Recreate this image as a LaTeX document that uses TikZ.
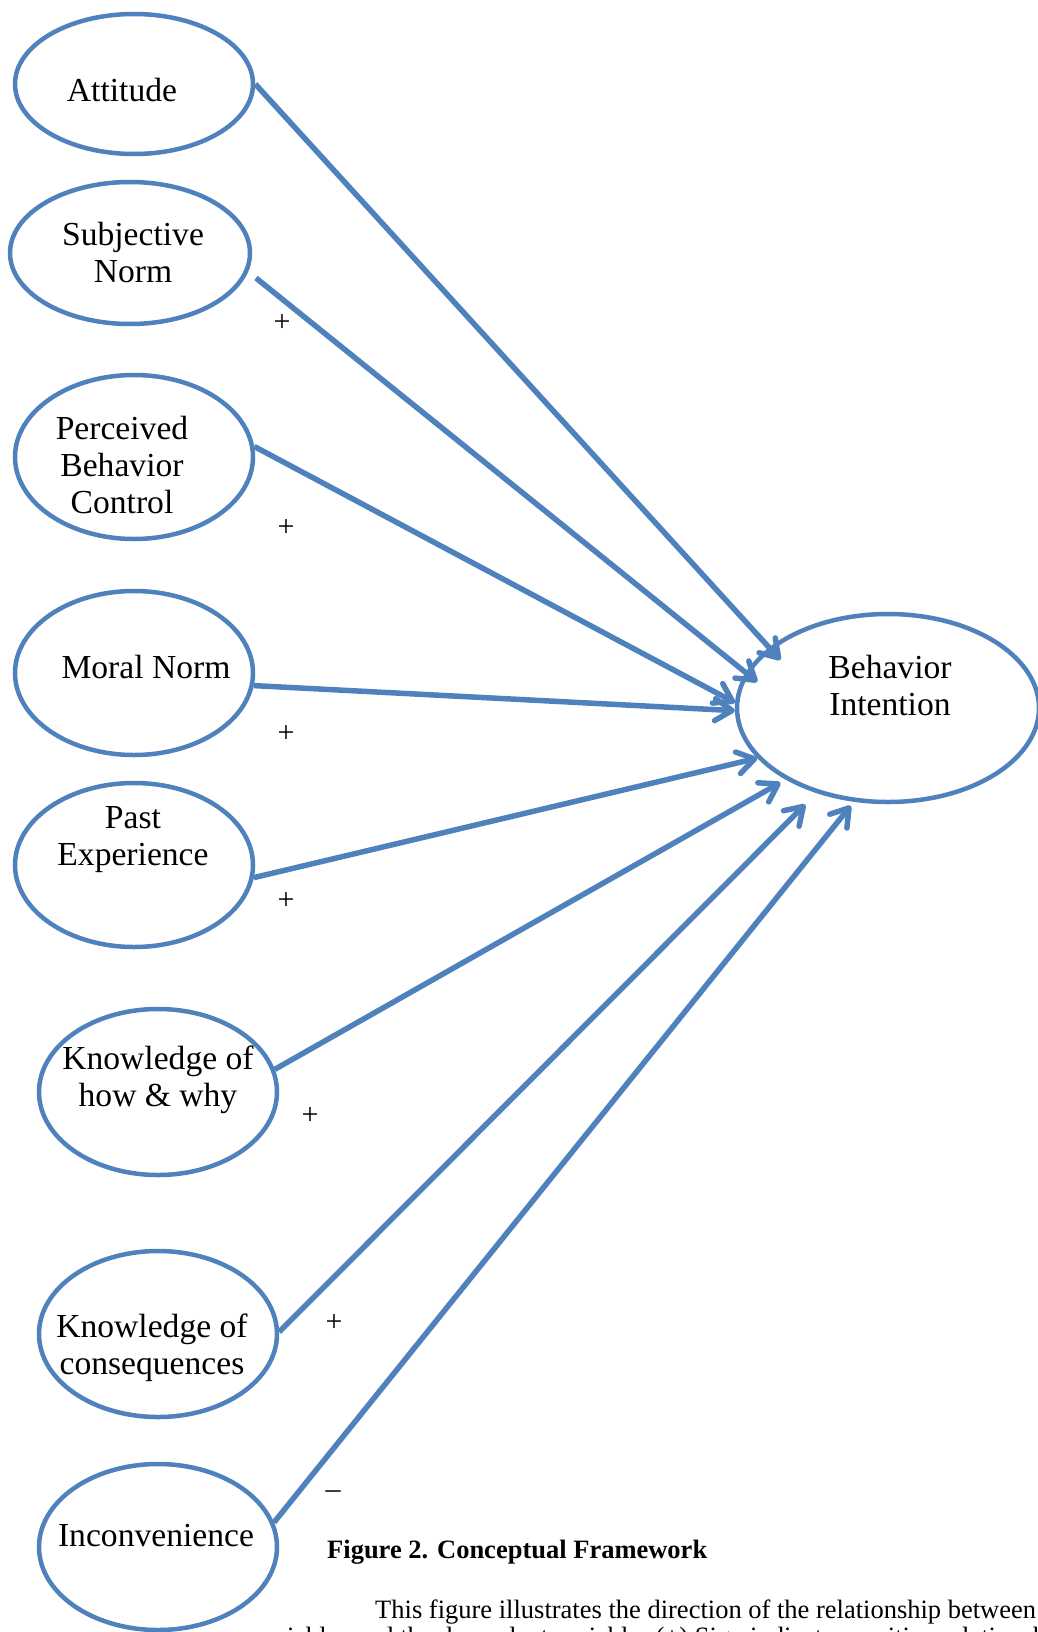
\documentclass[tikz,border=0pt]{standalone}
\usepackage{fontspec}
\setmainfont{Liberation Serif}
\usepackage{tikz}
\usetikzlibrary{arrows.meta,shapes.geometric,calc}
\definecolor{shapeblue}{HTML}{4F81BD}

\begin{document}
\begin{tikzpicture}[x=1pt,y=-1pt,
  oval/.style={ellipse, draw=shapeblue, line width=4.5pt, fill=white, inner sep=0pt, minimum width=238pt, minimum height=164pt},
  lbl/.style={align=center, font=\fontsize{33.6}{37}\selectfont},
  sgn/.style={font=\fontsize{30}{36}\selectfont},
  body/.style={anchor=base west, inner sep=0pt, font=\fontsize{26.5}{30}\selectfont},
  link/.style={draw=shapeblue, line width=5.5pt, -{Straight Barb[length=17pt,width=22pt,round]}}]
\useasboundingbox (0,0) rectangle (1037,1632);
% Caption and text under the figure
\node[body, font=\fontsize{26.5}{30}\selectfont\bfseries] (caption) at (327,1558) {Figure 2. Conceptual Framework};
\node[body] (para1) at (375,1618) {This figure illustrates the direction of the relationship between};
\node[body] (para2) at (278,1645) {riables and the dependent variable. (+) Sign indicates positive relationship};
% Ellipses
\node[oval, minimum height=140pt] (att) at (134,84) {};
\node[oval, minimum width=240pt, minimum height=142pt] (sub) at (130,253) {};
\node[oval] (per) at (134,457) {};
\node[oval] (mor) at (134,673) {};
\node[oval] (pas) at (134,865) {};
\node[oval, minimum height=166pt] (how) at (158,1092) {};
\node[oval, minimum height=166pt] (con) at (158,1334) {};
\node[oval, minimum height=166pt] (inc) at (158,1547) {};
\node[oval, minimum width=302pt, minimum height=188pt] (bi) at (888,708) {};
% Labels
\node[lbl] (atttxt) at (122,90) {Attitude};
\node[lbl] (subtxt) at (133,253) {Subjective\\Norm};
\node[lbl] (pertxt) at (122,465) {Perceived\\Behavior\\Control};
\node[lbl] (mortxt) at (146,667) {Moral Norm};
\node[lbl] (pastxt) at (133,840) {Past\\Experience};
\node[lbl] (howtxt) at (158,1080) {Knowledge of\\how \& why};
\node[lbl] (contxt) at (152,1348) {Knowledge of\\consequences};
\node[lbl] (inctxt) at (156,1536) {Inconvenience};
\node[lbl] (bitxt) at (890,685) {Behavior\\Intention};
% Arrows into Behavior Intention
\draw[link, shorten >=-17pt] (att.east) -- (bi.153);
\draw[link, shorten <=10pt, shorten >=-15pt] (sub.-9.5) -- (bi.166);
\draw[link] (per.5) -- (bi.178);
\draw[link] (mor.-6) -- (bi.181);
\draw[link] (pas.-6) -- (bi.201);
\draw[link, shorten >=6pt] (how.11) -- (bi.215);
\draw[link, shorten >=16pt] (con.1) -- (bi.230);
\draw[link, shorten >=5pt] (inc.12) -- (bi.250);
% Signs
\foreach \x/\y [count=\i] in {282/323,286/528,286/734,286/901,310/1116,334/1323}
  \node[sgn] (plus\i) at (\x,\y) {+};
\node[sgn] (minus) at (333,1495) {–};
\end{tikzpicture}
\end{document}
